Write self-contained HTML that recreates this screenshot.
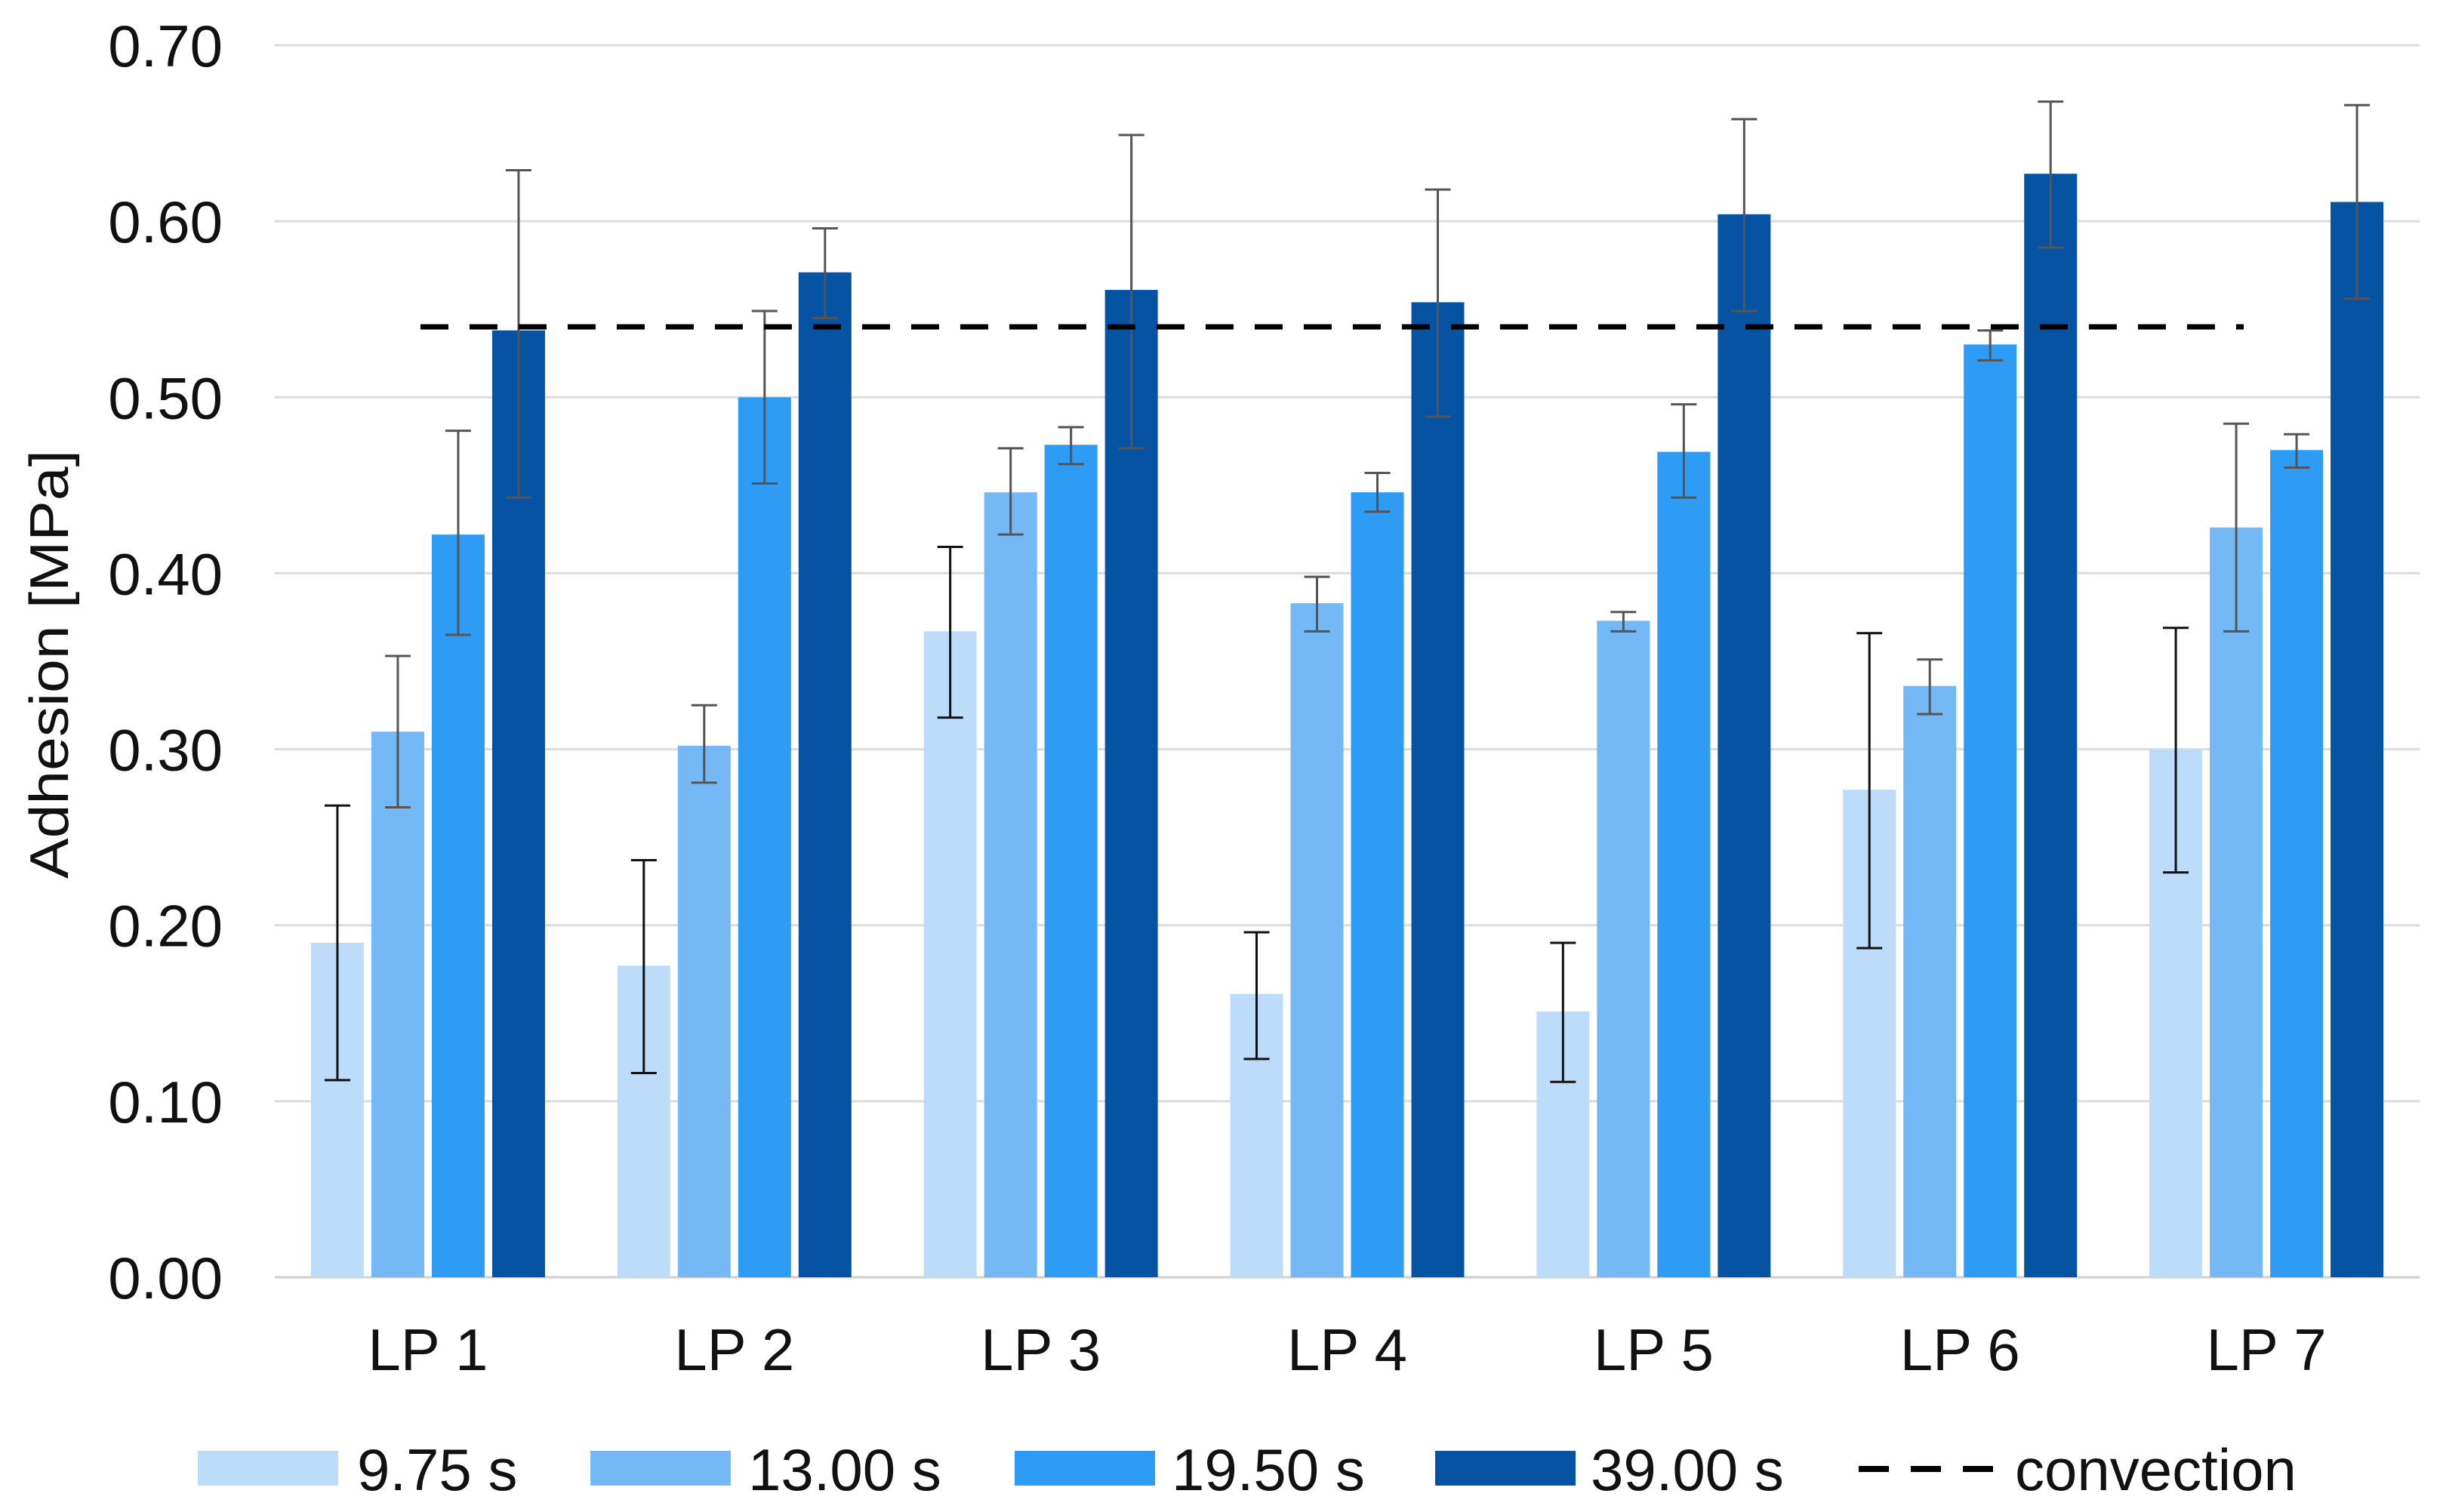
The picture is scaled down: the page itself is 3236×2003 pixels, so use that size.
<!DOCTYPE html>
<html><head><meta charset="utf-8"><style>
html,body{margin:0;padding:0;background:#fff;width:3236px;height:2003px;overflow:hidden}
svg{display:block}
text{font-family:"Liberation Sans",Arial,sans-serif;fill:#111}
</style></head><body>
<svg id="chart" width="3236" height="2003" viewBox="0 0 3236 2003" xmlns="http://www.w3.org/2000/svg">
<g id="grid"></g>
<g id="bars"></g>
<g id="errs"></g>
<g id="conv"></g>
<g id="ylab"></g>
<g id="xlab"></g>
<text transform="translate(90,880) rotate(-90)" text-anchor="middle" font-size="72" textLength="568" lengthAdjust="spacingAndGlyphs">Adhesion [MPa]</text>
<g id="legend"></g>
</svg>
<script>
const categories = ["LP 1","LP 2","LP 3","LP 4","LP 5","LP 6","LP 7"];
const seriesNames = ["9.75 s","13.00 s","19.50 s","39.00 s"];
const s975 = [0.190,0.177,0.367,0.161,0.151,0.277,0.300];
const s1300 = [0.310,0.302,0.446,0.383,0.373,0.336,0.426];
const s1950 = [0.422,0.500,0.473,0.446,0.469,0.530,0.470];
const s3900 = [0.538,0.571,0.561,0.554,0.604,0.627,0.611];
const lo975 = [0.112,0.116,0.318,0.124,0.111,0.187,0.230];
const hi975 = [0.268,0.237,0.415,0.196,0.190,0.366,0.369];
const lo1300 = [0.267,0.281,0.422,0.367,0.367,0.320,0.367];
const hi1300 = [0.353,0.325,0.471,0.398,0.378,0.351,0.485];
const lo1950 = [0.365,0.451,0.462,0.435,0.443,0.521,0.460];
const hi1950 = [0.481,0.549,0.483,0.457,0.496,0.538,0.479];
const lo3900 = [0.443,0.545,0.471,0.489,0.549,0.585,0.556];
const hi3900 = [0.629,0.596,0.649,0.618,0.658,0.668,0.666];
const convection = 0.54;
const yTicks = [0,0.1,0.2,0.3,0.4,0.5,0.6,0.7];

const NS="http://www.w3.org/2000/svg";
const L=364,R=3205,T=60,B=1692,YMAX=0.7;
const y=v=>B-(v/YMAX)*(B-T);
const band=(R-L)/categories.length;
const xc=i=>L+band*(i+0.5);
const BW=70,PITCH=80;
const colors=["#bcdcfa","#74b8f5","#2e9bf5","#0753a3"];
const vals=[s975,s1300,s1950,s3900], los=[lo975,lo1300,lo1950,lo3900], his=[hi975,hi1300,hi1950,hi3900];
function mk(tag,attrs,parent){const e=document.createElementNS(NS,tag);for(const k in attrs)e.setAttribute(k,attrs[k]);parent.appendChild(e);return e;}
const G=id=>document.getElementById(id);

yTicks.forEach(t=>{
  const l=mk('line',{x1:L,x2:R,y1:y(t),y2:y(t),stroke:t===0?'#cfcfcf':'#dcdcdc','stroke-width':3},G('grid'));
  
  
  const tx=mk('text',{x:295,y:y(t)+28,'text-anchor':'end','font-size':78},G('ylab'));
  tx.textContent=t.toFixed(2);
  
  
});
categories.forEach((c,i)=>{
  const tx=mk('text',{x:xc(i),y:1815,'text-anchor':'middle','font-size':78},G('xlab'));
  tx.textContent=c;
  
  
  for(let s=0;s<4;s++){
    const cx=xc(i)+(s-1.5)*PITCH;
    const v=vals[s][i];
    const r=mk('rect',{x:cx-BW/2,y:y(v),width:BW,height:B-y(v),fill:colors[s]},G('bars'));
    
    
    const col=s===0?'#111':'#555';
    const g=mk('g',{stroke:col,'stroke-width':3},G('errs'));
    
    
    mk('line',{x1:cx,x2:cx,y1:y(los[s][i]),y2:y(his[s][i])},g);
    mk('line',{x1:cx-17,x2:cx+17,y1:y(los[s][i]),y2:y(los[s][i])},g);
    mk('line',{x1:cx-17,x2:cx+17,y1:y(his[s][i]),y2:y(his[s][i])},g);
  }
});
const cl=mk('line',{x1:xc(0)-10,x2:xc(6)-30,y1:y(convection),y2:y(convection),stroke:'#000','stroke-width':7,'stroke-dasharray':'37 28'},G('conv'));



const legX=[262,782,1344,1901], legTX=[473,991,1552,2107];
seriesNames.forEach((n,s)=>{
  const r=mk('rect',{x:legX[s],y:1922,width:186,height:46,fill:colors[s]},G('legend'));
  
  
  const t=mk('text',{x:legTX[s],y:1974,'font-size':78},G('legend'));
  t.textContent=n;
  
  
});
const dl=mk('line',{x1:2462,x2:2640,y1:1946,y2:1946,stroke:'#000','stroke-width':8,'stroke-dasharray':'40 29'},G('legend'));


const ct=mk('text',{x:2669,y:1974,'font-size':78},G('legend'));
ct.textContent='convection';


</script>
</body></html>
